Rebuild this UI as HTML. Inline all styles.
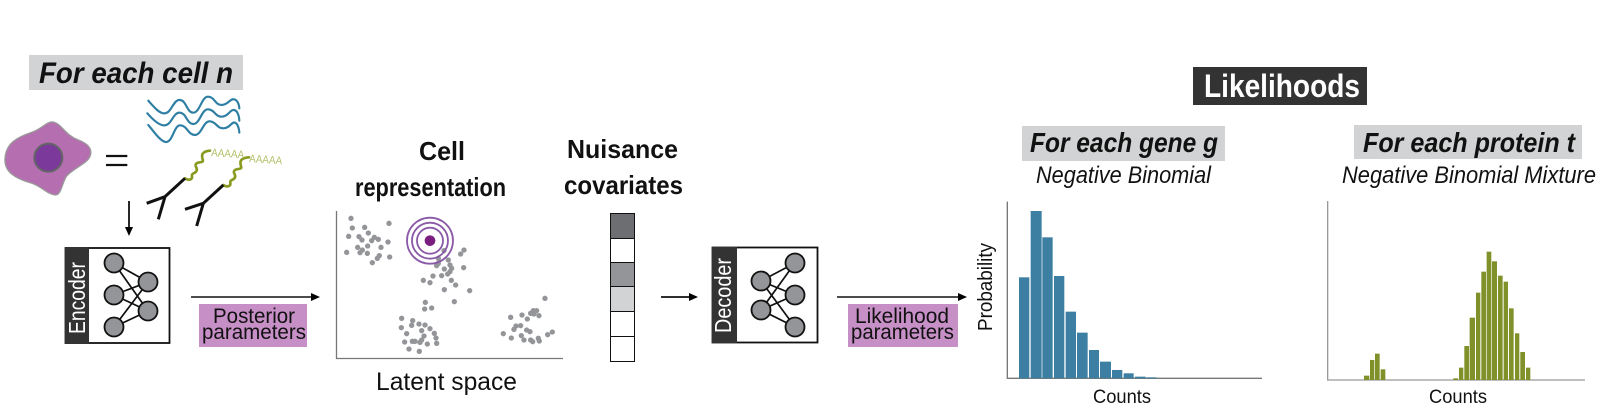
<!DOCTYPE html>
<html><head><meta charset="utf-8"><style>
html,body{margin:0;padding:0;background:#fff}
svg{display:block}
text{font-family:"Liberation Sans",sans-serif;fill:#111}
</style></head><body>
<svg width="1600" height="420" viewBox="0 0 1600 420" xmlns="http://www.w3.org/2000/svg">
<rect width="1600" height="420" fill="#fff"/>
<defs><marker id="a" markerWidth="10" markerHeight="10" refX="7" refY="4" orient="auto" markerUnits="userSpaceOnUse"><path d="M0,0L9,4L0,8Z" fill="#000"/></marker></defs>

<!-- Left header -->
<rect x="29" y="55" width="214" height="35" fill="#d1d3d4"/>
<text x="39" y="83" font-size="30" font-weight="bold" font-style="italic" textLength="194" lengthAdjust="spacingAndGlyphs">For each cell n</text>

<!-- Cell -->
<g transform="translate(0,50) scale(.3333)">
<path d="M15,325C18,280 50,262 95,247C125,238 140,213 160,216C185,222 195,255 235,270C262,280 275,295 272,312C268,340 225,350 200,378C185,400 185,435 165,435C140,432 125,408 90,398C45,385 12,365 15,325Z" fill="#b56fb0" stroke="#999" stroke-width="4"/>
<circle cx="145" cy="323" r="42" fill="#7b3a9b" stroke="#636466" stroke-width="6"/>
<path d="M318,318H382M318,345H382" stroke="#111" stroke-width="7" fill="none"/>
</g>

<!-- Waves, antibodies -->
<g transform="translate(130,90) scale(.3333)" fill="none">
<g stroke="#2e7fa3" stroke-width="6.500" stroke-linecap="round">
<path d="M55,32C75,55 90,72 105,70C125,68 130,28 150,30C170,32 170,68 190,68C210,68 215,18 235,20C255,22 255,45 275,45C295,45 300,25 312,28C325,30 328,50 328,55"/>
<path d="M52,70C72,93 90,108 105,106C125,104 130,66 150,68C170,70 170,102 190,102C210,102 215,56 235,58C255,60 255,80 275,80C295,80 300,58 312,60C325,62 328,85 328,92"/>
<path d="M55,105C75,130 95,158 110,156C130,152 132,104 152,106C172,108 175,135 195,135C215,135 220,92 240,94C260,96 260,115 280,115C300,115 305,94 315,98C325,102 328,122 328,128"/>
</g>
<g stroke="#8a9a1e" stroke-width="8" stroke-linecap="round">
<path d="M165,265C175,272 188,270 186,258C184,248 196,252 200,242C204,232 190,228 200,220C210,214 222,220 218,208C214,196 215,184 240,182"/>
<path d="M280,285C290,292 303,290 301,278C299,268 311,272 315,262C319,252 305,248 315,240C325,234 337,240 333,228C329,216 330,204 357,202"/>
</g>
<g stroke="#111" stroke-width="9">
<path d="M165,265L105,320L50,340M105,320L85,388"/>
<path d="M280,285L220,340L165,358M220,340L200,408"/>
</g>
</g>
<text x="211" y="156" font-size="11" style="fill:#b5c06a" textLength="33" lengthAdjust="spacingAndGlyphs" transform="rotate(4 211 156)">AAAAA</text>
<text x="249" y="162" font-size="11" style="fill:#b5c06a" textLength="33" lengthAdjust="spacingAndGlyphs" transform="rotate(4 249 162)">AAAAA</text>

<line x1="129" y1="201" x2="129" y2="234" stroke="#111" stroke-width="1.800" marker-end="url(#a)"/>

<!-- Encoder -->
<rect x="65.500" y="248" width="104" height="95" fill="#fff" stroke="#111" stroke-width="1.800"/>
<rect x="65" y="247" width="24" height="97" fill="#333"/>
<text transform="translate(85,334) rotate(-90)" font-size="23" style="fill:#fff" textLength="72" lengthAdjust="spacingAndGlyphs">Encoder</text>
<g stroke="#111" stroke-width="1.700">
<path d="M114,263L148,282M114,263L148,311M114,295L148,282M114,295L148,311M114,327L148,282M114,327L148,311"/>
<g fill="#939598" stroke-width="1.800"><circle cx="114" cy="263" r="9.500"/><circle cx="114" cy="295" r="9.500"/><circle cx="114" cy="327" r="9.500"/><circle cx="148" cy="282" r="9.500"/><circle cx="148" cy="311" r="9.500"/></g>
</g>

<line x1="191" y1="297" x2="318" y2="297" stroke="#111" stroke-width="1.600" marker-end="url(#a)"/>
<rect x="199" y="304" width="108" height="43" fill="#c68fc6"/>
<text x="213" y="323" font-size="21" textLength="82" lengthAdjust="spacingAndGlyphs">Posterior</text>
<text x="202" y="339" font-size="21" textLength="104" lengthAdjust="spacingAndGlyphs">parameters</text>

<!-- Cell representation -->
<text x="442" y="160" font-size="26" font-weight="bold" text-anchor="middle" textLength="46" lengthAdjust="spacingAndGlyphs">Cell</text>
<text x="355" y="196" font-size="26" font-weight="bold" textLength="151" lengthAdjust="spacingAndGlyphs">representation</text>
<path d="M336.500,211V358.500H563" fill="none" stroke="#777" stroke-width="1.300"/>
<g transform="translate(320,200) scale(.3333)" fill="#939598">
<circle cx="93" cy="55" r="8"/><circle cx="97" cy="84" r="8"/><circle cx="134" cy="82" r="8"/><circle cx="207" cy="70" r="8"/><circle cx="145" cy="99" r="8"/><circle cx="86" cy="109" r="8"/><circle cx="117" cy="110" r="8"/><circle cx="126" cy="120" r="8"/><circle cx="163" cy="112" r="8"/><circle cx="175" cy="118" r="8"/><circle cx="155" cy="122" r="8"/><circle cx="204" cy="126" r="8"/><circle cx="143" cy="138" r="8"/><circle cx="113" cy="142" r="8"/><circle cx="127" cy="150" r="8"/><circle cx="183" cy="142" r="8"/><circle cx="80" cy="157" r="8"/><circle cx="120" cy="158" r="8"/><circle cx="142" cy="160" r="8"/><circle cx="209" cy="171" r="8"/><circle cx="178" cy="167" r="8"/><circle cx="172" cy="175" r="8"/><circle cx="157" cy="188" r="8"/>
<circle cx="372" cy="152" r="8"/><circle cx="432" cy="150" r="8"/><circle cx="422" cy="162" r="8"/><circle cx="355" cy="175" r="8"/><circle cx="385" cy="180" r="8"/><circle cx="390" cy="195" r="8"/><circle cx="350" cy="197" r="8"/><circle cx="431" cy="203" r="8"/><circle cx="373" cy="207" r="8"/><circle cx="395" cy="205" r="8"/><circle cx="390" cy="215" r="8"/><circle cx="383" cy="222" r="8"/><circle cx="365" cy="227" r="8"/><circle cx="339" cy="228" r="8"/><circle cx="310" cy="241" r="8"/><circle cx="330" cy="248" r="8"/><circle cx="394" cy="241" r="8"/><circle cx="407" cy="255" r="8"/><circle cx="373" cy="269" r="8"/><circle cx="449" cy="272" r="8"/><circle cx="403" cy="305" r="8"/><circle cx="355" cy="190" r="8"/>
<circle cx="316" cy="307" r="8"/><circle cx="314" cy="327" r="8"/><circle cx="335" cy="324" r="8"/><circle cx="245" cy="355" r="8"/><circle cx="278" cy="362" r="8"/><circle cx="275" cy="376" r="8"/><circle cx="297" cy="372" r="8"/><circle cx="315" cy="375" r="8"/><circle cx="244" cy="383" r="8"/><circle cx="330" cy="386" r="8"/><circle cx="305" cy="392" r="8"/><circle cx="343" cy="400" r="8"/><circle cx="260" cy="401" r="8"/><circle cx="348" cy="414" r="8"/><circle cx="312" cy="408" r="8"/><circle cx="305" cy="420" r="8"/><circle cx="254" cy="426" r="8"/><circle cx="277" cy="424" r="8"/><circle cx="285" cy="424" r="8"/><circle cx="300" cy="427" r="8"/><circle cx="322" cy="432" r="8"/><circle cx="350" cy="430" r="8"/><circle cx="267" cy="447" r="8"/><circle cx="298" cy="454" r="8"/>
<circle cx="675" cy="295" r="8"/><circle cx="572" cy="352" r="8"/><circle cx="606" cy="345" r="8"/><circle cx="622" cy="357" r="8"/><circle cx="640" cy="332" r="8"/><circle cx="650" cy="332" r="8"/><circle cx="632" cy="340" r="8"/><circle cx="642" cy="342" r="8"/><circle cx="657" cy="347" r="8"/><circle cx="602" cy="377" r="8"/><circle cx="588" cy="378" r="8"/><circle cx="582" cy="388" r="8"/><circle cx="620" cy="390" r="8"/><circle cx="630" cy="395" r="8"/><circle cx="550" cy="401" r="8"/><circle cx="604" cy="407" r="8"/><circle cx="697" cy="396" r="8"/><circle cx="683" cy="404" r="8"/><circle cx="574" cy="414" r="8"/><circle cx="612" cy="420" r="8"/><circle cx="632" cy="420" r="8"/><circle cx="638" cy="425" r="8"/><circle cx="655" cy="415" r="8"/><circle cx="658" cy="423" r="8"/>
<g fill="none" stroke="#8a5aa8" stroke-width="5.500"><circle cx="330" cy="122" r="69"/><circle cx="330" cy="122" r="54"/><circle cx="330" cy="122" r="39"/></g>
<circle cx="330" cy="122" r="16" fill="#7a1f80"/>
</g>
<text x="376" y="390" font-size="25" textLength="141" lengthAdjust="spacingAndGlyphs">Latent space</text>

<!-- Nuisance -->
<text x="567" y="158" font-size="26" font-weight="bold" textLength="111" lengthAdjust="spacingAndGlyphs">Nuisance</text>
<text x="564" y="194" font-size="26" font-weight="bold" textLength="119" lengthAdjust="spacingAndGlyphs">covariates</text>
<g stroke="#111" stroke-width="1">
<rect x="610.500" y="213.500" width="24" height="25" fill="#6d6e71"/>
<rect x="610.500" y="238.500" width="24" height="24" fill="#fff"/>
<rect x="610.500" y="262.500" width="24" height="24" fill="#939598"/>
<rect x="610.500" y="286.500" width="24" height="25" fill="#d1d3d4"/>
<rect x="610.500" y="311.500" width="24" height="25" fill="#fff"/>
<rect x="610.500" y="336.500" width="24" height="25" fill="#fff"/>
</g>

<line x1="661" y1="297" x2="696" y2="297" stroke="#111" stroke-width="1.800" marker-end="url(#a)"/>

<!-- Decoder -->
<rect x="712.500" y="247.500" width="105" height="95" fill="#fff" stroke="#111" stroke-width="1.800"/>
<rect x="712" y="247" width="25" height="96" fill="#333"/>
<text transform="translate(731,333) rotate(-90)" font-size="23" style="fill:#fff" textLength="75" lengthAdjust="spacingAndGlyphs">Decoder</text>
<g stroke="#111" stroke-width="1.700">
<path d="M761,281L795,263M761,281L795,295M761,281L795,327M761,310L795,263M761,310L795,295M761,310L795,327"/>
<g fill="#939598" stroke-width="1.800"><circle cx="761" cy="281" r="9.500"/><circle cx="761" cy="310" r="9.500"/><circle cx="795" cy="263" r="9.500"/><circle cx="795" cy="295" r="9.500"/><circle cx="795" cy="327" r="9.500"/></g>
</g>

<line x1="837" y1="297" x2="965" y2="297" stroke="#111" stroke-width="1.600" marker-end="url(#a)"/>
<rect x="848" y="304" width="110" height="43" fill="#c68fc6"/>
<text x="855" y="323" font-size="21" textLength="94" lengthAdjust="spacingAndGlyphs">Likelihood</text>
<text x="851" y="339" font-size="21" textLength="103" lengthAdjust="spacingAndGlyphs">parameters</text>

<!-- Likelihoods header -->
<rect x="1193" y="67" width="174" height="38" fill="#333"/>
<text x="1204" y="97" font-size="32" font-weight="bold" style="fill:#fff" textLength="156" lengthAdjust="spacingAndGlyphs">Likelihoods</text>
<rect x="1022" y="126" width="203" height="35" fill="#d1d3d4"/>
<text x="1030" y="152" font-size="28" font-weight="bold" font-style="italic" textLength="188" lengthAdjust="spacingAndGlyphs">For each gene g</text>
<rect x="1354" y="125" width="228" height="34" fill="#d1d3d4"/>
<text x="1363" y="152" font-size="28" font-weight="bold" font-style="italic" textLength="212" lengthAdjust="spacingAndGlyphs">For each protein t</text>
<text x="1036" y="183" font-size="24" font-style="italic" textLength="175" lengthAdjust="spacingAndGlyphs">Negative Binomial</text>
<text x="1342" y="183" font-size="24" font-style="italic" textLength="254" lengthAdjust="spacingAndGlyphs">Negative Binomial Mixture</text>

<!-- Hist 1 -->
<g transform="translate(950,190) scale(.3333)">
<path d="M172,35V565H936" fill="none" stroke="#777" stroke-width="4"/>
<g fill="#3c7fa3">
<rect x="207" y="262" width="31" height="303"/><rect x="242" y="63" width="33" height="502"/><rect x="277" y="142" width="31" height="423"/><rect x="312" y="258" width="31" height="307"/><rect x="347" y="365" width="31" height="200"/><rect x="381" y="428" width="32" height="137"/><rect x="417" y="480" width="30" height="85"/><rect x="450" y="515" width="33" height="50"/><rect x="486" y="540" width="31" height="25"/><rect x="521" y="550" width="30" height="15"/><rect x="555" y="560" width="32" height="5"/><rect x="590" y="562" width="30" height="3"/>
</g></g>
<text transform="translate(992,331) rotate(-90)" font-size="20" textLength="88" lengthAdjust="spacingAndGlyphs">Probability</text>
<text x="1093" y="403" font-size="19.500" textLength="58" lengthAdjust="spacingAndGlyphs">Counts</text>

<!-- Hist 2 -->
<g transform="translate(1290,190) scale(.3333)">
<path d="M113,33V570H885" fill="none" stroke="#999" stroke-width="4"/>
<g fill="#7f9128">
<rect x="222" y="557" width="16" height="13"/><rect x="240" y="510" width="13" height="60"/><rect x="255" y="491" width="14" height="79"/><rect x="272" y="538" width="14" height="32"/><rect x="490" y="565" width="14" height="5"/><rect x="507" y="533" width="13" height="37"/><rect x="523" y="468" width="14" height="102"/><rect x="539" y="383" width="16" height="187"/><rect x="558" y="308" width="13" height="262"/><rect x="574" y="245" width="14" height="325"/><rect x="590" y="185" width="14" height="385"/><rect x="606" y="214" width="15" height="356"/><rect x="624" y="257" width="14" height="313"/><rect x="641" y="275" width="13" height="295"/><rect x="657" y="355" width="14" height="215"/><rect x="675" y="430" width="13" height="140"/><rect x="691" y="486" width="14" height="84"/><rect x="708" y="533" width="13" height="37"/>
</g></g>
<text x="1429" y="403" font-size="19.500" textLength="58" lengthAdjust="spacingAndGlyphs">Counts</text>
</svg>
</body></html>
